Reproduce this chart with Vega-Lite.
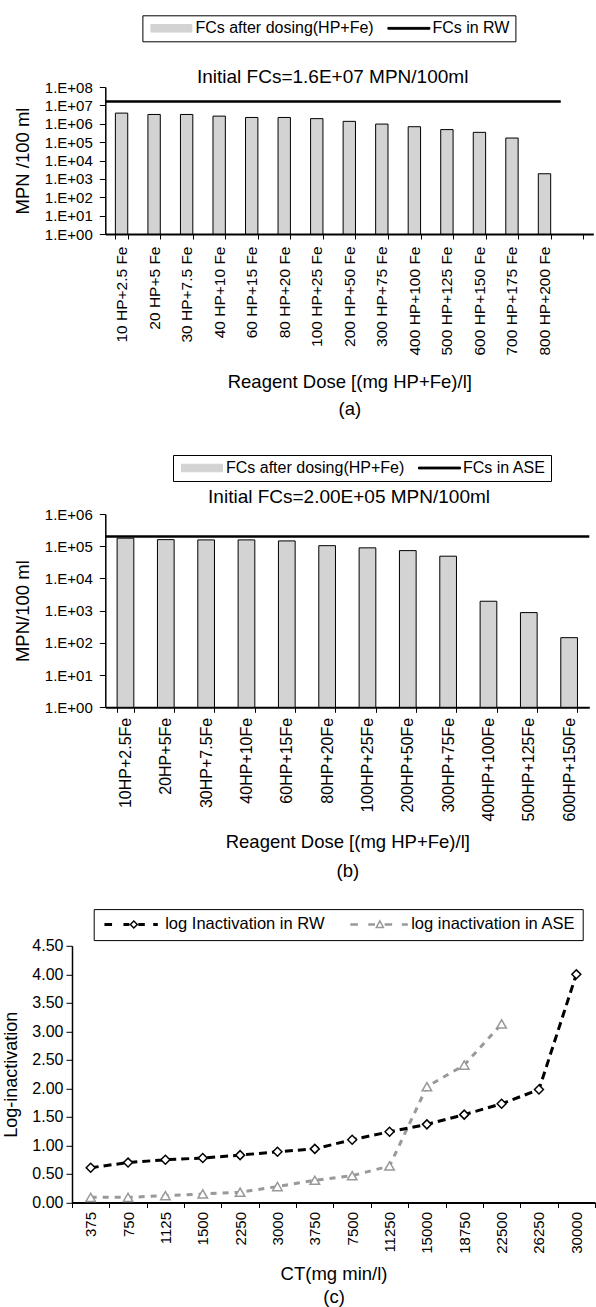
{
  "$schema": "https://vega.github.io/schema/vega-lite/v6.json",
  "padding": {"left": 2, "top": 14, "right": 0, "bottom": 0},
  "config": {
    "font": "Liberation Sans",
    "view": {"stroke": null},
    "axis": {"labelColor": "black", "titleColor": "black", "domainColor": "black", "tickColor": "black", "grid": false, "labelFont": "Liberation Sans", "titleFont": "Liberation Sans", "titleFontWeight": "normal"},
    "legend": {"labelFont": "Liberation Sans", "labelColor": "black"},
    "title": {"font": "Liberation Sans", "fontWeight": "normal", "color": "black"}
  },
  "resolve": {"scale": {"color": "independent"}, "legend": {"color": "independent"}},
  "spacing": 27.8,
  "vconcat": [
    {
      "resolve": {"scale": {"color": "independent"}, "legend": {"color": "independent"}},
      "spacing": 36,
      "vconcat": [
        {
          "width": 521.3,
          "height": 147,
          "title": {"text": "Initial FCs=1.6E+07 MPN/100ml", "fontSize": 19, "frame": "group", "anchor": "middle", "baseline": "alphabetic", "offset": -87.6, "dx": 0},
          "layer": [
            {
              "data": {"values": [
                {"dose": "10 HP+2.5 Fe", "mpn": 3800000, "series": "FCs after dosing(HP+Fe)"},
                {"dose": "20 HP+5 Fe", "mpn": 3200000, "series": "FCs after dosing(HP+Fe)"},
                {"dose": "30 HP+7.5 Fe", "mpn": 3200000, "series": "FCs after dosing(HP+Fe)"},
                {"dose": "40 HP+10 Fe", "mpn": 2600000, "series": "FCs after dosing(HP+Fe)"},
                {"dose": "60 HP+15 Fe", "mpn": 2200000, "series": "FCs after dosing(HP+Fe)"},
                {"dose": "80 HP+20 Fe", "mpn": 2200000, "series": "FCs after dosing(HP+Fe)"},
                {"dose": "100 HP+25 Fe", "mpn": 1900000, "series": "FCs after dosing(HP+Fe)"},
                {"dose": "200 HP+50 Fe", "mpn": 1350000, "series": "FCs after dosing(HP+Fe)"},
                {"dose": "300 HP+75 Fe", "mpn": 960000, "series": "FCs after dosing(HP+Fe)"},
                {"dose": "400 HP+100 Fe", "mpn": 690000, "series": "FCs after dosing(HP+Fe)"},
                {"dose": "500 HP+125 Fe", "mpn": 480000, "series": "FCs after dosing(HP+Fe)"},
                {"dose": "600 HP+150 Fe", "mpn": 340000, "series": "FCs after dosing(HP+Fe)"},
                {"dose": "700 HP+175 Fe", "mpn": 167000, "series": "FCs after dosing(HP+Fe)"},
                {"dose": "800 HP+200 Fe", "mpn": 1900, "series": "FCs after dosing(HP+Fe)"}
              ]},
              "mark": {"type": "bar", "stroke": "black", "strokeWidth": 1},
              "encoding": {
                "x": {"field": "dose", "type": "nominal", "sort": null,
                  "scale": {"type": "band", "domain": ["10 HP+2.5 Fe", "20 HP+5 Fe", "30 HP+7.5 Fe", "40 HP+10 Fe", "60 HP+15 Fe", "80 HP+20 Fe", "100 HP+25 Fe", "200 HP+50 Fe", "300 HP+75 Fe", "400 HP+100 Fe", "500 HP+125 Fe", "600 HP+150 Fe", "700 HP+175 Fe", "800 HP+200 Fe", " "], "range": [33.3, 521.3], "paddingInner": 0.62, "paddingOuter": 0.31},
                  "axis": {"title": ["Reagent Dose [(mg HP+Fe)/l]", "(a)"], "titleFontSize": 18.5, "titleLineHeight": 27.4, "titlePadding": 17, "labelAngle": -90, "labelFontSize": 15.5, "labelPadding": 7, "tickBand": "extent", "tickSize": 5, "domainWidth": 2, "labelOverlap": false, "labelLimit": 300}},
                "y": {"field": "mpn", "type": "quantitative",
                  "scale": {"type": "log", "domain": [1, 100000000], "nice": false},
                  "axis": {"title": "MPN /100 ml", "values": [1, 10, 100, 1000, 10000, 100000, 1000000, 10000000, 100000000], "labelExpr": "'1.E+0' + format(log(datum.value)/LN10, '.0f')", "offset": -33.3, "tickSize": 6, "labelPadding": 7, "labelFontSize": 15, "titleFontSize": 18.5, "titlePadding": 12, "domainWidth": 1.5, "labelOverlap": false}},
                "y2": {"datum": 1},
                "color": {"field": "series", "type": "nominal",
                  "scale": {"domain": ["FCs after dosing(HP+Fe)", "FCs in RW"], "range": ["#d3d3d3", "black"]},
                  "legend": {"orient": "none", "legendX": 70.4, "legendY": -71.7, "direction": "horizontal", "columns": 2, "title": null, "padding": 5, "strokeColor": "black", "fillColor": "white", "labelFontSize": 16, "labelOffset": 32, "labelLimit": 500, "columnPadding": 10, "symbolSize": 81, "symbolStrokeColor": "black", "symbolStrokeWidth": 1,
                    "encode": {"symbols": {"update": {"shape": {"signal": "datum.value === 'FCs in RW' ? 'M-1,-0.2H8.33V0.2H-1Z' : 'M-1,-0.84H8.1V0.84H-1Z'"}, "stroke": {"signal": "'black'"}}}}}}
              }
            },
            {
              "data": {"values": [{"from": "10 HP+2.5 Fe", "to": "800 HP+200 Fe", "mpn": 16000000, "series": "FCs in RW"}]},
              "mark": {"type": "rule", "strokeWidth": 2.5},
              "encoding": {
                "x": {"field": "from", "type": "nominal", "bandPosition": -0.8158},
                "x2": {"field": "to", "bandPosition": 1.8158},
                "y": {"field": "mpn", "type": "quantitative"},
                "color": {"field": "series", "type": "nominal", "legend": null}
              }
            }
          ]
        },
        {
          "width": 517.3,
          "height": 193.3,
          "title": {"text": "Initial FCs=2.00E+05 MPN/100ml", "fontSize": 19, "frame": "group", "anchor": "middle", "baseline": "alphabetic", "offset": -67.4, "dx": 18.4},
          "layer": [
            {
              "data": {"values": [
                {"dose": "10HP+2.5Fe", "mpn": 178000, "series": "FCs after dosing(HP+Fe)"},
                {"dose": "20HP+5Fe", "mpn": 160000, "series": "FCs after dosing(HP+Fe)"},
                {"dose": "30HP+7.5Fe", "mpn": 157000, "series": "FCs after dosing(HP+Fe)"},
                {"dose": "40HP+10Fe", "mpn": 157000, "series": "FCs after dosing(HP+Fe)"},
                {"dose": "60HP+15Fe", "mpn": 146000, "series": "FCs after dosing(HP+Fe)"},
                {"dose": "80HP+20Fe", "mpn": 104000, "series": "FCs after dosing(HP+Fe)"},
                {"dose": "100HP+25Fe", "mpn": 89000, "series": "FCs after dosing(HP+Fe)"},
                {"dose": "200HP+50Fe", "mpn": 73000, "series": "FCs after dosing(HP+Fe)"},
                {"dose": "300HP+75Fe", "mpn": 49000, "series": "FCs after dosing(HP+Fe)"},
                {"dose": "400HP+100Fe", "mpn": 1960, "series": "FCs after dosing(HP+Fe)"},
                {"dose": "500HP+125Fe", "mpn": 870, "series": "FCs after dosing(HP+Fe)"},
                {"dose": "600HP+150Fe", "mpn": 145, "series": "FCs after dosing(HP+Fe)"}
              ]},
              "mark": {"type": "bar", "stroke": "black", "strokeWidth": 1},
              "encoding": {
                "x": {"field": "dose", "type": "nominal", "sort": null,
                  "scale": {"type": "band", "domain": ["10HP+2.5Fe", "20HP+5Fe", "30HP+7.5Fe", "40HP+10Fe", "60HP+15Fe", "80HP+20Fe", "100HP+25Fe", "200HP+50Fe", "300HP+75Fe", "400HP+100Fe", "500HP+125Fe", "600HP+150Fe"], "range": [33.3, 517.3], "paddingInner": 0.586, "paddingOuter": 0.293},
                  "axis": {"title": ["Reagent Dose [(mg HP+Fe)/l]", "(b)"], "titleFontSize": 18.5, "titleLineHeight": 28.4, "titlePadding": 12, "labelAngle": -90, "labelFontSize": 16, "labelPadding": 5, "tickBand": "extent", "tickSize": 5, "domainWidth": 2, "labelOverlap": false, "labelLimit": 300}},
                "y": {"field": "mpn", "type": "quantitative",
                  "scale": {"type": "log", "domain": [1, 1000000], "nice": false},
                  "axis": {"title": "MPN/100 ml", "values": [1, 10, 100, 1000, 10000, 100000, 1000000], "labelExpr": "'1.E+0' + format(log(datum.value)/LN10, '.0f')", "offset": -33.3, "tickSize": 6, "labelPadding": 7, "labelFontSize": 15, "titleFontSize": 18.5, "titlePadding": 12, "domainWidth": 1.5, "labelOverlap": false}},
                "y2": {"datum": 1},
                "color": {"field": "series", "type": "nominal",
                  "scale": {"domain": ["FCs after dosing(HP+Fe)", "FCs in ASE"], "range": ["#d3d3d3", "black"]},
                  "legend": {"orient": "none", "legendX": 101, "legendY": -59, "direction": "horizontal", "columns": 2, "title": null, "padding": 5, "strokeColor": "black", "fillColor": "white", "labelFontSize": 16, "labelOffset": 32, "labelLimit": 500, "columnPadding": 10, "symbolSize": 81, "symbolStrokeColor": "black", "symbolStrokeWidth": 1,
                    "encode": {"symbols": {"update": {"shape": {"signal": "datum.value === 'FCs in ASE' ? 'M-1,-0.2H8.33V0.2H-1Z' : 'M-1,-0.84H8.1V0.84H-1Z'"}, "stroke": {"signal": "'black'"}}}}}}
              }
            },
            {
              "data": {"values": [{"from": "10HP+2.5Fe", "to": "600HP+150Fe", "mpn": 200000, "series": "FCs in ASE"}]},
              "mark": {"type": "rule", "strokeWidth": 2.5},
              "encoding": {
                "x": {"field": "from", "type": "nominal", "bandPosition": -0.7077},
                "x2": {"field": "to", "bandPosition": 1.7077},
                "y": {"field": "mpn", "type": "quantitative"},
                "color": {"field": "series", "type": "nominal", "legend": null}
              }
            }
          ]
        }
      ]
    },
    {
      "width": 523,
      "height": 256.7,
      "data": {"values": [
        {"ct": "375", "series": "log inactivation in ASE", "v": 0.09},
        {"ct": "750", "series": "log inactivation in ASE", "v": 0.09},
        {"ct": "1125", "series": "log inactivation in ASE", "v": 0.12},
        {"ct": "1500", "series": "log inactivation in ASE", "v": 0.15},
        {"ct": "2250", "series": "log inactivation in ASE", "v": 0.18},
        {"ct": "3000", "series": "log inactivation in ASE", "v": 0.28},
        {"ct": "3750", "series": "log inactivation in ASE", "v": 0.39},
        {"ct": "7500", "series": "log inactivation in ASE", "v": 0.47},
        {"ct": "11250", "series": "log inactivation in ASE", "v": 0.64},
        {"ct": "15000", "series": "log inactivation in ASE", "v": 2.03},
        {"ct": "18750", "series": "log inactivation in ASE", "v": 2.41},
        {"ct": "22500", "series": "log inactivation in ASE", "v": 3.13},
        {"ct": "375", "series": "log Inactivation in RW", "v": 0.61},
        {"ct": "750", "series": "log Inactivation in RW", "v": 0.70},
        {"ct": "1125", "series": "log Inactivation in RW", "v": 0.75},
        {"ct": "1500", "series": "log Inactivation in RW", "v": 0.78},
        {"ct": "2250", "series": "log Inactivation in RW", "v": 0.83},
        {"ct": "3000", "series": "log Inactivation in RW", "v": 0.89},
        {"ct": "3750", "series": "log Inactivation in RW", "v": 0.94},
        {"ct": "7500", "series": "log Inactivation in RW", "v": 1.10},
        {"ct": "11250", "series": "log Inactivation in RW", "v": 1.24},
        {"ct": "15000", "series": "log Inactivation in RW", "v": 1.37},
        {"ct": "18750", "series": "log Inactivation in RW", "v": 1.54},
        {"ct": "22500", "series": "log Inactivation in RW", "v": 1.73},
        {"ct": "26250", "series": "log Inactivation in RW", "v": 1.98},
        {"ct": "30000", "series": "log Inactivation in RW", "v": 4.00}
      ]},
      "encoding": {
        "x": {"field": "ct", "type": "ordinal", "sort": null, "bandPosition": 0.5,
          "scale": {"type": "band", "domain": ["375", "750", "1125", "1500", "2250", "3000", "3750", "7500", "11250", "15000", "18750", "22500", "26250", "30000"], "paddingInner": 0, "paddingOuter": 0},
          "axis": {"title": ["CT(mg min/l)", "(c)"], "titleFontSize": 18.5, "titleLineHeight": 23.4, "titlePadding": 11, "labelAngle": -90, "labelFontSize": 15, "labelPadding": 4, "tickBand": "extent", "tickSize": 5, "domainWidth": 2, "labelOverlap": false}},
        "y": {"field": "v", "type": "quantitative",
          "scale": {"domain": [0, 4.5], "nice": false},
          "axis": {"title": "Log-inactivation", "values": [0, 0.5, 1, 1.5, 2, 2.5, 3, 3.5, 4, 4.5], "format": ".2f", "tickSize": 6, "labelPadding": 3, "labelFontSize": 16, "titleFontSize": 18, "titlePadding": 11, "domainWidth": 1.5, "labelOverlap": false}}
      },
      "layer": [
        {
          "transform": [{"filter": "datum.series === 'log inactivation in ASE'"}],
          "mark": {"type": "line", "strokeWidth": 3, "strokeDash": [6, 6]},
          "encoding": {
            "color": {"field": "series", "type": "nominal",
              "scale": {"domain": ["log Inactivation in RW", "log inactivation in ASE"], "range": ["black", "#999999"]},
              "legend": {"orient": "none", "legendX": 21.7, "legendY": -36.7, "direction": "horizontal", "columns": 2, "title": null, "padding": 7, "strokeColor": "black", "fillColor": "white", "labelFontSize": 16.5, "labelOffset": 48, "labelLimit": 500, "columnPadding": 22, "symbolSize": 81, "symbolStrokeWidth": 0,
                "encode": {"symbols": {"update": {
                  "shape": {"signal": "datum.value === 'log Inactivation in RW' ? 'M-1,-0.33H0.69V0.33H-1ZM3.22,-0.33H4.53V0.33H3.22ZM6.53,-0.33H7.97V0.33H6.53ZM9.84,-0.33H10.86V0.33H9.84ZM5.53,-1L6.53,0L5.53,1L4.53,0ZM5.53,-0.55L4.98,0L5.53,0.55L6.08,0Z' : 'M-1.03,-0.28H0.66V0.28H-1.03ZM2.95,-0.28H4.46V0.28H2.95ZM6.6,-0.28H8.26V0.28H6.6ZM10.42,-0.28H11.75V0.28H10.42ZM5.53,-1.15L6.6,0.85L4.46,0.85ZM5.53,-0.45L5.01,0.52L6.05,0.52Z'"},
                  "fill": {"signal": "datum.value === 'log Inactivation in RW' ? 'black' : '#999999'"},
                  "fillOpacity": {"value": 1},
                  "strokeWidth": {"value": 0}}}}}},
            "order": {"value": null}
          }
        },
        {
          "transform": [{"filter": "datum.series === 'log Inactivation in RW'"}],
          "mark": {"type": "line", "strokeWidth": 3, "strokeDash": [8, 5]},
          "encoding": {
            "color": {"field": "series", "type": "nominal", "legend": null},
            "order": {"value": null}
          }
        },
        {
          "transform": [{"filter": "datum.series === 'log inactivation in ASE'"}],
          "mark": {"type": "point", "shape": "triangle-up", "filled": true, "fill": "white", "stroke": "#999999", "strokeWidth": 1.5, "size": 90, "opacity": 1}
        },
        {
          "transform": [{"filter": "datum.series === 'log Inactivation in RW'"}],
          "mark": {"type": "point", "shape": "diamond", "filled": true, "fill": "white", "stroke": "black", "strokeWidth": 1.5, "size": 80, "opacity": 1}
        }
      ]
    }
  ]
}
